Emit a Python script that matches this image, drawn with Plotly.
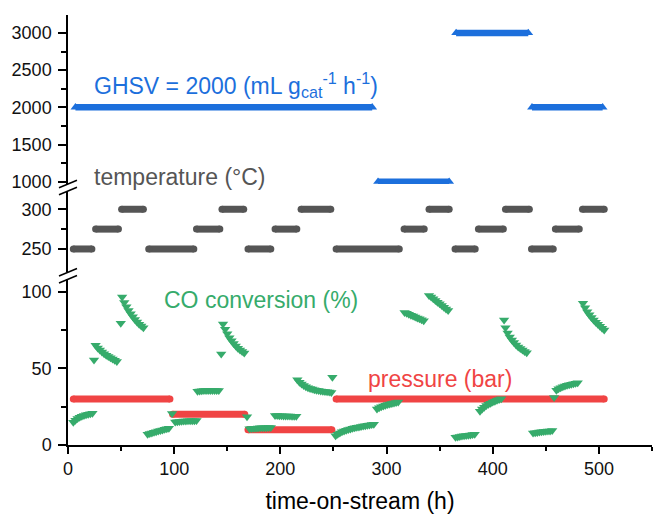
import plotly.graph_objects as go

# ---------------- set-point schedules (time-on-stream windows in h) ----------------
temp_start = [5, 26, 50.5, 76, 121, 145, 169.5, 195, 219.5, 252.5, 316.5, 340, 364.5, 386.5, 412, 436.5, 459, 484.5]
temp_end = [22.5, 47.5, 71, 118.5, 143, 165.5, 191, 215.5, 247.5, 312, 335.5, 359, 383.5, 410, 434.5, 457, 481.5, 505]
temp_value = [250, 275, 300, 250, 275, 300, 250, 275, 300, 250, 275, 300, 250, 275, 300, 250, 275, 300]

pres_start = [5, 98.5, 169.5, 252.5]
pres_end = [96, 166.5, 248.5, 505]
pres_value = [30, 20, 10, 30]

ghsv_start = [7, 292, 365.5, 437]
ghsv_end = [286.5, 359, 433.5, 503.5]
ghsv_value = [2000, 1000, 3000, 2000]

# ---------------- CO conversion (%) ----------------
# one reading every co_interval hours, starting at the time given in co_start
co_interval = 2
co_start = [5, 26, 51, 75, 101, 122, 146, 171, 195, 216, 252, 291, 317, 340, 365, 388, 412, 438, 460, 485]
co_a = [14.8, 16.2, 17.3, 18.1, 18.8, 19.3, 19.7, 20.1, 20.4, 20.7]
co_b = [65.0, 63.3, 61.9, 60.7, 59.6, 58.6, 57.7, 56.9, 56.1, 55.3, 54.5]
co_c = [96.5, 93.0, 90.2, 87.8, 85.6, 83.6, 81.8, 80.2, 78.8, 77.6, 76.5]
co_d = [7.0, 7.5, 7.9, 8.3, 8.7, 9.1, 9.5, 9.8, 10.2, 10.6, 11.0]
co_e = [15.0, 15.2, 15.4, 15.5, 15.6, 15.7, 15.8, 15.8, 15.9, 15.9, 16.0]
co_f = [35.0, 35.2, 35.4, 35.5, 35.5, 35.6, 35.6, 35.6, 35.6, 35.5, 35.5]
co_g = [79.0, 75.5, 72.5, 70.0, 68.0, 66.2, 64.6, 63.2, 62.0, 61.0, 60.0]
co_h = [10.6, 10.8, 10.9, 11.0, 11.1, 11.2, 11.2, 11.3, 11.3, 11.4, 11.4]
co_i = [19.2, 19.2, 19.1, 19.1, 19.0, 19.0, 18.9, 18.9, 18.8, 18.8, 18.7]
co_j = [42.5, 41.0, 39.8, 38.8, 38.0, 37.4, 36.9, 36.5, 36.1, 35.8, 35.5, 35.3, 35.1, 34.9, 34.7, 34.5, 34.3]
co_k = [6.0, 7.0, 7.9, 8.6, 9.2, 9.7, 10.1, 10.5, 10.9, 11.2, 11.5, 11.8, 12.1, 12.4, 12.6, 12.9, 13.1, 13.3, 13.5]
co_l = [23.5, 24.3, 25.0, 25.5, 26.0, 26.4, 26.8, 27.1, 27.4, 27.7, 28.0]
co_m = [86.5, 85.9, 85.3, 84.7, 84.1, 83.5, 82.9, 82.3, 81.7, 81.1]
co_n = [97.5, 96.5, 95.4, 94.3, 93.2, 92.1, 91.0, 89.9, 88.8, 87.8]
co_o = [5.0, 5.3, 5.6, 5.8, 6.0, 6.2, 6.4, 6.6, 6.8, 7.0]
co_p = [22.0, 23.5, 24.7, 25.7, 26.6, 27.3, 28.0, 28.6, 29.2, 29.7, 30.2]
co_q = [76.5, 73.0, 70.5, 68.5, 66.8, 65.3, 64.0, 62.9, 61.9, 61.0, 60.2]
co_r = [7.8, 8.0, 8.2, 8.4, 8.6, 8.8, 8.9, 9.1, 9.2, 9.4]
co_s = [35.8, 36.7, 37.4, 38.0, 38.5, 38.9, 39.3, 39.7, 40.0, 40.3, 40.6]
co_t = [92.5, 89.5, 87.0, 85.0, 83.2, 81.6, 80.1, 78.7, 77.4, 76.2, 75.0]
co_segments = [co_a, co_b, co_c, co_d, co_e, co_f, co_g, co_h, co_i, co_j,
               co_k, co_l, co_m, co_n, co_o, co_p, co_q, co_r, co_s, co_t]

# first reading right after each change of conditions
co_first_time = [24.5, 49.7, 98, 144.3, 168.6, 249, 410.7, 457.8]
co_first_value = [55.4, 79.4, 20.6, 59.4, 18.5, 44.2, 81.5, 31.0]

# ---------------- colours / fonts ----------------
BLUE = "#1c6fdc"
GREY = "#555555"
RED = "#f04444"
GREEN = "#36ab6b"
FONT = "Liberation Sans, Arial, sans-serif"

W, H = 653, 514
ML, MR, MT, MB = 68, 1, 15, 69
PW, PH = W - ML - MR, H - MT - MB


def px_x(px):
    return (px - ML) / PW


def px_y(py):
    return (H - MB - py) / PH


def steps(starts, ends, values):
    xs, ys = [], []
    for s, e, v in zip(starts, ends, values):
        xs += [s, e, None]
        ys += [v, v, None]
    return xs, ys


co_x, co_y = [], []
for t0, seg in zip(co_start, co_segments):
    co_x += [t0 + co_interval * i for i in range(len(seg))]
    co_y += seg
co_x += co_first_time
co_y += co_first_value

fig = go.Figure()

gx, gy = steps(ghsv_start, ghsv_end, ghsv_value)
fig.add_trace(go.Scatter(x=gx, y=gy, xaxis="x", yaxis="y3", mode="lines+markers",
                         line=dict(color=BLUE, width=6.5),
                         marker=dict(symbol="triangle-up", size=8.5, color=BLUE),
                         showlegend=False, hoverinfo="skip"))

tx, ty = steps(temp_start, temp_end, temp_value)
fig.add_trace(go.Scatter(x=tx, y=ty, xaxis="x", yaxis="y2", mode="lines+markers",
                         line=dict(color=GREY, width=7),
                         marker=dict(symbol="circle", size=7, color=GREY),
                         showlegend=False, hoverinfo="skip"))

pxs, pys = steps(pres_start, pres_end, pres_value)
fig.add_trace(go.Scatter(x=pxs, y=pys, xaxis="x", yaxis="y", mode="lines+markers",
                         line=dict(color=RED, width=7),
                         marker=dict(symbol="circle", size=7, color=RED),
                         showlegend=False, hoverinfo="skip"))

fig.add_trace(go.Scatter(x=co_x, y=co_y, xaxis="x", yaxis="y", mode="markers",
                         marker=dict(symbol="triangle-down", size=9, color=GREEN),
                         showlegend=False, hoverinfo="skip"))

axis_common = dict(showline=True, linecolor="black", linewidth=1.5, ticks="outside",
                   tickwidth=1.5, tickcolor="black", showgrid=False, zeroline=False,
                   tickfont=dict(family=FONT, size=18, color="#111111"))

yax_common = dict(axis_common, ticklen=8, anchor="x", tickmode="array", ticklabelstandoff=3)

fig.update_layout(
    width=W, height=H,
    margin=dict(l=ML, r=MR, t=MT, b=MB),
    paper_bgcolor="white", plot_bgcolor="white",
    font=dict(family=FONT),
    xaxis=dict(axis_common, range=[0, 550], domain=[0, 1], anchor="y", dtick=100, tick0=0,
               ticklen=7,
               minor=dict(dtick=50, ticklen=4, tickwidth=1.5, tickcolor="black", ticks="outside"),
               title=dict(text="time-on-stream (h)", font=dict(family=FONT, size=23, color="black"),
                          standoff=16)),
    yaxis=dict(yax_common, domain=[0, px_y(279)], range=[0, 108.3],
               tickvals=[0, 50, 100],
               minor=dict(tickmode="array", tickvals=[25, 75], ticklen=5, tickwidth=1.5,
                          tickcolor="black", ticks="outside")),
    yaxis2=dict(yax_common, domain=[px_y(272), px_y(191)], range=[221, 323],
                tickvals=[250, 300],
                minor=dict(tickmode="array", tickvals=[275], ticklen=5, tickwidth=1.5,
                           tickcolor="black", ticks="outside")),
    yaxis3=dict(yax_common, domain=[px_y(184), 1], range=[969, 3242],
                tickvals=[1000, 1500, 2000, 2500, 3000],
                minor=dict(tickmode="array", tickvals=[1250, 1750, 2250, 2750], ticklen=5,
                           tickwidth=1.5, tickcolor="black", ticks="outside")),
)

# axis-break marks on the left spine
breaks = [((59, 187.7), (77, 180.3)), ((59, 194.7), (77, 187.3)),
          ((59, 276.0), (77, 268.5)), ((59, 283.0), (77, 275.5))]
for (x0, y0), (x1, y1) in breaks:
    fig.add_shape(type="line", xref="paper", yref="paper",
                  x0=px_x(x0), y0=px_y(y0), x1=px_x(x1), y1=px_y(y1),
                  line=dict(color="black", width=1.5))

labels = [
    ("GHSV = 2000 (mL g<sub>cat</sub><sup>-1</sup> h<sup>-1</sup>)", 92, 85, BLUE),
    ("temperature (°C)", 92, 177, GREY),
    ("CO conversion (%)", 162, 300, GREEN),
    ("pressure (bar)", 366, 379, RED),
]
for text, lx, ly, col in labels:
    fig.add_annotation(text=text, xref="paper", yref="paper", x=px_x(lx), y=px_y(ly),
                       xanchor="left", yanchor="middle", showarrow=False,
                       font=dict(family=FONT, size=23, color=col))

fig.write_html("out.html")
